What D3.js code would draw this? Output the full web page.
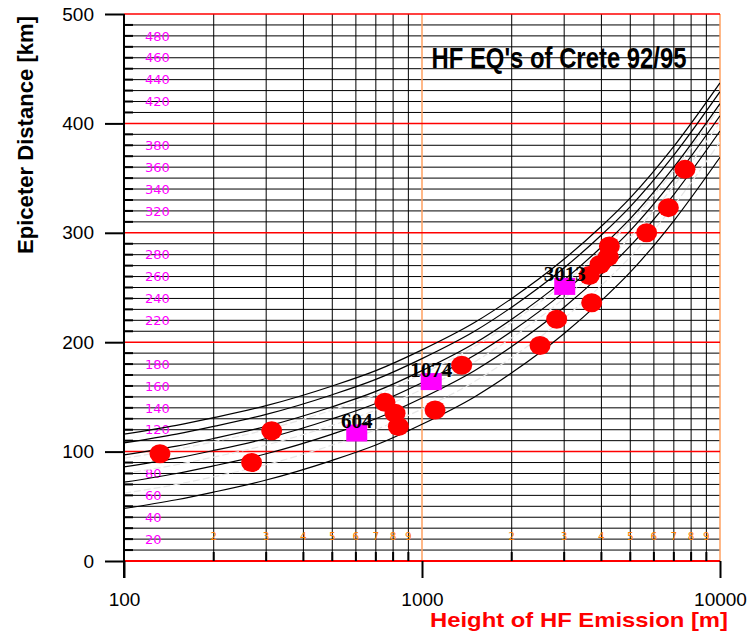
<!DOCTYPE html>
<html>
<head>
<meta charset="utf-8">
<script src="https://cdn.jsdelivr.net/npm/d3@7"></script>
<style>
    body { margin: 0; background: #fff; }
    svg { display: block; }
</style>
</head>
<body>
<div id="chart"></div>
<script>
var curveHeights = [100, 150, 200, 300, 500, 700, 1000, 1500, 2000, 3000, 4000, 5000, 7000, 10000];

// solid black curves, epicenter distance [km]
var curveA = [116, 124, 131, 142, 160, 174, 193, 218, 240, 276, 306, 332, 379, 437];
var curveB = [108, 116, 123, 134, 152, 166, 185, 210, 232, 268, 298, 324, 371, 429];
var curveC = [97, 105, 112, 123, 141, 155, 174, 199, 221, 257, 287, 313, 360, 418];
var curveD = [86, 94, 101, 112, 130, 144, 163, 188, 210, 246, 276, 302, 349, 407];
var curveE = [72, 80, 87, 98, 116, 130, 149, 174, 196, 232, 262, 288, 335, 393];
var curveF = [48, 56, 63, 74, 92, 106, 125, 150, 172, 208, 238, 264, 311, 369];

// white dashed curves
var dashA = [94, 102, 109, 120, 138, 152, 171, 196, 218, 254, 284, 310, 357, 415];
var dashB = [80, 88, 95, 106, 124, 138, 157, 182, 204, 240, 270, 296, 343, 401];
var dashC = [62, 70, 77, 88, 106, 120, 139, 164, 186, 222, 252, 278, 325, 383];

// earthquakes
var eqHeights = [132, 268, 313, 751, 812, 833, 1106, 1359, 2489, 2831, 3710, 3642, 3954, 4217, 4253, 5675, 6709, 7630];
var eqDistances = [98, 90, 119, 145, 135, 123, 138, 179, 197, 221, 236, 261, 271, 278, 288, 300, 323, 358];

// marked heights
var markHeights = [604, 1074, 3013];
var markDistances = [117, 164, 251];
var markLabels = ['604', '1074', '3013'];

// ticks
var xMajorTicks = [100, 1000, 10000];
var xMinorTicks = [200, 300, 400, 500, 600, 700, 800, 900, 2000, 3000, 4000, 5000, 6000, 7000, 8000, 9000];
var yMajorTicks = [0, 100, 200, 300, 400, 500];
var yInnerLabels = [20, 40, 60, 80, 120, 140, 160, 180, 220, 240, 260, 280, 320, 340, 360, 380, 420, 440, 460, 480];

var W = 750, H = 634;
var pLeft = 124, pRight = 720, pTop = 14, pBottom = 561;

var svg = d3.select('#chart').append('svg')
    .attr('width', W)
    .attr('height', H);

var x = d3.scaleLog().domain([100, 10000]).range([pLeft, pRight]);
var y = d3.scaleLinear().domain([0, 500]).range([pBottom, pTop]);

var grid = svg.append('g').attr('class', 'grid');

// horizontal 10 km lines
grid.selectAll('.hline')
    .data(d3.range(10, 500, 10).filter(function (d) { return d % 100 != 0; }))
    .enter().append('line')
    .attr('class', 'hline')
    .attr('x1', pLeft).attr('x2', pRight)
    .attr('y1', function (d) { return y(d); })
    .attr('y2', function (d) { return y(d); })
    .style('stroke', '#000')
    .style('stroke-width', 1);

// vertical lines
grid.selectAll('.vline')
    .data(xMinorTicks)
    .enter().append('line')
    .attr('class', 'vline')
    .attr('x1', function (d) { return x(d); })
    .attr('x2', function (d) { return x(d); })
    .attr('y1', pTop).attr('y2', pBottom)
    .style('stroke', '#000')
    .style('stroke-width', 1);

grid.selectAll('.vdecade')
    .data([1000, 10000])
    .enter().append('line')
    .attr('class', 'vdecade')
    .attr('x1', function (d) { return x(d); })
    .attr('x2', function (d) { return x(d); })
    .attr('y1', pTop).attr('y2', pBottom)
    .style('stroke', '#ffa060')
    .style('stroke-width', 1.5);

// red lines every 100 km
grid.selectAll('.hred')
    .data(yMajorTicks)
    .enter().append('line')
    .attr('class', 'hred')
    .attr('x1', pLeft).attr('x2', pRight)
    .attr('y1', function (d) { return y(d); })
    .attr('y2', function (d) { return y(d); })
    .style('stroke', '#ff0000')
    .style('stroke-width', function (d) { return d == 0 ? 2 : 1.5; });

// labels inside the plot
grid.selectAll('.ylab')
    .data(yInnerLabels)
    .enter().append('text')
    .attr('class', 'ylab')
    .attr('x', 145)
    .attr('y', function (d) { return y(d); })
    .attr('dy', '0.36em')
    .text(function (d) { return d; })
    .style('fill', '#ff00ff')
    .style('font-family', 'DejaVu Sans, Liberation Sans, sans-serif')
    .style('font-size', '13px');

grid.selectAll('.xlab')
    .data(xMinorTicks)
    .enter().append('text')
    .attr('class', 'xlab')
    .attr('x', function (d) { return x(d); })
    .attr('y', 536)
    .attr('dy', '0.36em')
    .attr('text-anchor', 'middle')
    .text(function (d) { return String(d).charAt(0); })
    .style('fill', '#ff8000')
    .style('font-family', 'DejaVu Sans, Liberation Sans, sans-serif')
    .style('font-size', '10.5px');

// curves
var line = d3.line()
    .x(function (d) { return x(d[0]); })
    .y(function (d) { return y(d[1]); })
    .curve(d3.curveMonotoneX);

function pairs(vals) {
    return curveHeights.map(function (h, i) { return [h, vals[i]]; });
}

svg.append('clipPath').attr('id', 'plotclip')
    .append('rect')
    .attr('x', pLeft).attr('y', pTop)
    .attr('width', pRight - pLeft).attr('height', pBottom - pTop);

var curves = svg.append('g').attr('clip-path', 'url(#plotclip)');

curves.selectAll('.solid')
    .data([curveA, curveB, curveC, curveD, curveE, curveF])
    .enter().append('path')
    .attr('class', 'solid')
    .attr('d', function (d) { return line(pairs(d)); })
    .style('fill', 'none')
    .style('stroke', '#000')
    .style('stroke-width', 1.2);

curves.selectAll('.dashed')
    .data([dashA, dashB, dashC])
    .enter().append('path')
    .attr('class', 'dashed')
    .attr('d', function (d) { return line(pairs(d)); })
    .style('fill', 'none')
    .style('stroke', '#e6e6e6')
    .style('stroke-dasharray', '7,3')
    .style('stroke-width', 1.2);

// minor ticks
svg.selectAll('.yminor')
    .data(d3.range(10, 500, 10).filter(function (d) { return d % 100 != 0; }))
    .enter().append('line')
    .attr('class', 'yminor')
    .attr('x1', pLeft).attr('x2', pLeft + 9)
    .attr('y1', function (d) { return y(d); })
    .attr('y2', function (d) { return y(d); })
    .style('stroke', '#000')
    .style('stroke-width', 2);

svg.selectAll('.xminor')
    .data(xMinorTicks)
    .enter().append('line')
    .attr('class', 'xminor')
    .attr('x1', function (d) { return x(d); })
    .attr('x2', function (d) { return x(d); })
    .attr('y1', pBottom).attr('y2', pBottom - 9)
    .style('stroke', '#000')
    .style('stroke-width', 2);

// axes
var yAxis = d3.axisLeft(y)
    .tickValues(yMajorTicks)
    .tickSize(19)
    .tickSizeOuter(0)
    .tickPadding(11);

var gy = svg.append('g')
    .attr('transform', 'translate(' + pLeft + ',0)')
    .call(yAxis);

var xAxis = d3.axisBottom(x)
    .tickValues(xMajorTicks)
    .tickSize(17)
    .tickSizeOuter(0)
    .tickPadding(15)
    .tickFormat(d3.format('d'));

var gx = svg.append('g')
    .attr('transform', 'translate(0,' + pBottom + ')')
    .call(xAxis);

gx.select('.domain').remove();
gy.select('.domain')
    .attr('d', 'M0,' + pTop + 'V' + (pBottom + 17))
    .style('stroke', '#000')
    .style('stroke-width', 2);

[gx, gy].forEach(function (g) {
    g.selectAll('.tick line').style('stroke', '#000').style('stroke-width', 2);
    g.selectAll('.tick text')
        .style('fill', '#000')
        .style('font-family', 'Liberation Sans, Arial, sans-serif')
        .style('font-size', '19px');
});

// data points
svg.selectAll('.eq')
    .data(eqHeights)
    .enter().append('ellipse')
    .attr('class', 'eq')
    .attr('cx', function (d) { return x(d); })
    .attr('cy', function (d, i) { return y(eqDistances[i]); })
    .attr('rx', 10.5)
    .attr('ry', 9.5)
    .style('fill', '#ff0000');

svg.selectAll('.mark')
    .data(markHeights)
    .enter().append('rect')
    .attr('class', 'mark')
    .attr('x', function (d) { return x(d) - 10.5; })
    .attr('y', function (d, i) { return y(markDistances[i]) - 8.5; })
    .attr('width', 21)
    .attr('height', 17)
    .style('fill', '#ff00ff');

svg.selectAll('.marklabel')
    .data(markHeights)
    .enter().append('text')
    .attr('class', 'marklabel')
    .attr('x', function (d) { return x(d); })
    .attr('y', function (d, i) { return y(markDistances[i]) - 5; })
    .attr('text-anchor', 'middle')
    .text(function (d, i) { return markLabels[i]; })
    .style('fill', '#000')
    .style('font-family', 'Liberation Serif, Times New Roman, serif')
    .style('font-weight', 'bold')
    .style('font-size', '21px');

// titles
svg.append('text')
    .attr('x', 559)
    .attr('y', 68)
    .attr('text-anchor', 'middle')
    .attr('textLength', 255)
    .attr('lengthAdjust', 'spacingAndGlyphs')
    .text("HF EQ's of Crete 92/95")
    .style('font-family', 'Liberation Sans Narrow, Arial Narrow, Liberation Sans, sans-serif')
    .style('font-weight', 'bold')
    .style('font-size', '30px');

svg.append('text')
    .attr('transform', 'translate(33,135) rotate(-90)')
    .attr('text-anchor', 'middle')
    .attr('textLength', 238)
    .attr('lengthAdjust', 'spacingAndGlyphs')
    .text('Epiceter Distance [km]')
    .style('font-family', 'Liberation Sans Narrow, Arial Narrow, Liberation Sans, sans-serif')
    .style('font-weight', 'bold')
    .style('font-size', '22px');

svg.append('text')
    .attr('x', 728)
    .attr('y', 627)
    .attr('text-anchor', 'end')
    .attr('textLength', 298)
    .attr('lengthAdjust', 'spacingAndGlyphs')
    .text('Height of HF Emission [m]')
    .style('fill', '#ff0000')
    .style('font-family', 'Liberation Sans, Arial, sans-serif')
    .style('font-weight', 'bold')
    .style('font-size', '21px');
</script>
</body>
</html>
